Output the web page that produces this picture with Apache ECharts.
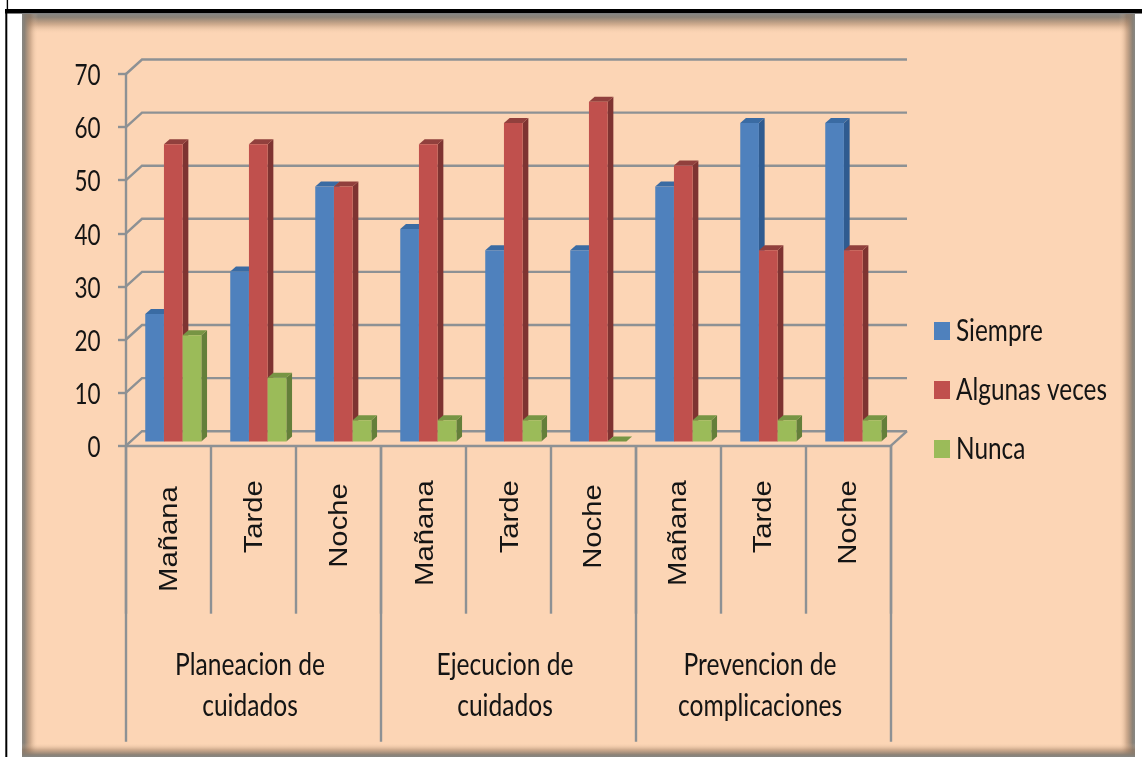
<!DOCTYPE html>
<html>
<head>
<meta charset="utf-8">
<title>Cuidados por turno</title>
<style>
  html, body { margin: 0; padding: 0; background: #ffffff; }
  #chart { width: 1142px; height: 757px; }
</style>
<script src="https://cdn.jsdelivr.net/npm/echarts@6/dist/echarts.min.js"></script>
</head>
<body>
<div id="chart"></div>
<script>
// Shift distribution, one value per shift within each care group
const shifts = ['Mañana', 'Tarde', 'Noche', 'Mañana', 'Tarde', 'Noche', 'Mañana', 'Tarde', 'Noche'];
const groups = ['Planeacion de\ncuidados', 'Ejecucion de\ncuidados', 'Prevencion de\ncomplicaciones'];
const seriesNames = ['Siempre', 'Algunas veces', 'Nunca'];
const siempre = [24, 32, 48, 40, 36, 36, 48, 60, 60];
const algunasVeces = [56, 56, 48, 56, 60, 64, 52, 36, 36];
const nunca = [20, 12, 4, 4, 4, 0, 4, 4, 4];
const yTicks = [0, 10, 20, 30, 40, 50, 60, 70];

const AXIS_GREY = '#8d9194';
const LINE_W = 2.4;
const TEXT = '#141414';
const TALL_FONT = 'Lato';
const TALL_SCALE = 1.27;

// Oblique projection used for the 3D look
const WALL = { dx: 16, dy: -14.5 };
const BAR_FRONT = { dx: 4.8, dy: -4.2 };
const BAR_DEPTH = { dx: 5.7, dy: -5 };
const BAR_SHARE = 0.22;

// Rotated shift labels sit a little lower under some columns
const shiftLabelDrop = [6, 0, 3, 0, 0, 4, 0, 0, 0];
const shiftLabelSide = [2, 1.5, 1.5, 2.5, 2.5, 1, 0.5, 0.5, 0.5];

function poly(points, fill) {
  return { type: 'polygon', shape: { points }, style: { fill, stroke: null } };
}

function tallText(text, x, y, align, size, lineHeight) {
  return {
    type: 'text',
    x, y,
    scaleY: TALL_SCALE,
    style: {
      text,
      fill: TEXT,
      font: size + 'px ' + TALL_FONT,
      align,
      verticalAlign: 'middle',
      lineHeight: lineHeight
    }
  };
}

function barSeries(name, values, slot, front, top, side) {
  return {
    type: 'custom',
    name,
    z: 3,
    clip: false,
    itemStyle: { color: front },
    encode: { x: 0, y: 1 },
    data: values.map((v, i) => [i, v]),
    renderItem(params, api) {
      const i = api.value(0);
      const base = api.coord([i, 0]);
      const head = api.coord([i, api.value(1)]);
      const w = api.size([1, 0])[0] * BAR_SHARE;
      const x0 = base[0] + BAR_FRONT.dx + (slot - 1.5) * w;
      const x1 = x0 + w;
      const yb = base[1] + BAR_FRONT.dy;
      const yt = head[1] + BAR_FRONT.dy;
      const ox = BAR_DEPTH.dx, oy = BAR_DEPTH.dy;
      return {
        type: 'group',
        children: [
          poly([[x1, yb], [x1 + ox, yb + oy], [x1 + ox, yt + oy], [x1, yt]], side),
          poly([[x0, yt], [x1, yt], [x1 + ox, yt + oy], [x0 + ox, yt + oy]], top),
          poly([[x0, yb], [x1, yb], [x1, yt], [x0, yt]], front)
        ]
      };
    }
  };
}

// Receding gridlines on the back wall, plus the right edge of the floor
const wallSeries = {
  type: 'custom',
  silent: true,
  z: 1,
  clip: false,
  encode: { x: 0, y: 1 },
  data: yTicks.map(v => [0, v]),
  renderItem(params, api) {
    const v = api.value(1);
    const half = api.size([1, 0])[0] / 2;
    const left = api.coord([0, v])[0] - half;
    const right = api.coord([shifts.length - 1, v])[0] + half;
    const y = api.coord([0, v])[1];
    const lineStyle = { stroke: AXIS_GREY, lineWidth: LINE_W, fill: null };
    const children = [{
      type: 'polyline',
      shape: { points: [[left, y], [left + WALL.dx, y + WALL.dy], [right + WALL.dx, y + WALL.dy]] },
      style: lineStyle
    }];
    if (v === 0) {
      children.push({
        type: 'line',
        shape: { x1: right, y1: y, x2: right + WALL.dx, y2: y + WALL.dy },
        style: lineStyle
      });
    }
    return { type: 'group', children };
  }
};

// Value labels, stretched vertically like the rest of the horizontal text
const yLabelSeries = {
  type: 'custom',
  silent: true,
  z: 4,
  clip: false,
  encode: { x: 0, y: 1 },
  data: yTicks.map(v => [0, v]),
  renderItem(params, api) {
    const half = api.size([1, 0])[0] / 2;
    const p = api.coord([0, api.value(1)]);
    return tallText(String(api.value(1)), p[0] - half - 25.5, p[1] + 2, 'right', 22.5);
  }
};

// Shift names, rotated and stretched along their length
const shiftLabelSeries = {
  type: 'custom',
  silent: true,
  z: 4,
  clip: false,
  encode: { x: 0, y: 1 },
  data: shifts.map((s, i) => [i, 0]),
  renderItem(params, api) {
    const i = api.value(0);
    const p = api.coord([i, 0]);
    return {
      type: 'text',
      x: p[0] + shiftLabelSide[i],
      y: p[1] + 34.5 + shiftLabelDrop[i],
      rotation: Math.PI / 2,
      scaleX: 1.17,
      style: {
        text: shifts[i],
        fill: TEXT,
        font: '25px "Liberation Sans"',
        align: 'right',
        verticalAlign: 'middle'
      }
    };
  }
};

// Care group names below the shifts
const groupLabelSeries = {
  type: 'custom',
  silent: true,
  z: 4,
  clip: false,
  encode: { x: 0, y: 1 },
  data: groups.map((g, i) => [i * 3 + 1, 0]),
  renderItem(params, api) {
    const p = api.coord([api.value(0), 0]);
    return tallText(groups[params.dataIndex], p[0] - 3.5, p[1] + 239.5, 'center', 24.6, 32);
  }
};

function edgeBand(x, y, width, height, gx, gy, gx2, gy2, stops) {
  return {
    type: 'rect', z: -9, silent: true,
    shape: { x, y, width, height },
    style: {
      fill: new echarts.graphic.LinearGradient(gx, gy, gx2, gy2, stops)
    }
  };
}

const shade = [
  { offset: 0, color: 'rgba(134,134,130,1)' },
  { offset: 0.16, color: 'rgba(134,126,116,0.95)' },
  { offset: 0.55, color: 'rgba(150,118,92,0.4)' },
  { offset: 1, color: 'rgba(252,213,181,0)' }
];

const chart = echarts.init(document.getElementById('chart'), null, { renderer: 'canvas' });

chart.setOption({
  animation: false,
  backgroundColor: '#ffffff',
  grid: { left: 126, top: 74, width: 765, height: 371.7, containLabel: false },
  legend: {
    orient: 'vertical',
    left: 934,
    top: 322,
    padding: 0,
    itemWidth: 16,
    itemHeight: 18,
    itemGap: 41,
    selectedMode: false,
    icon: 'rect',
    data: seriesNames,
    formatter: () => '',
    textStyle: { fontSize: 10 }
  },
  xAxis: [
    {
      type: 'category',
      data: shifts,
      position: 'bottom',
      axisLine: { lineStyle: { color: AXIS_GREY, width: LINE_W } },
      axisTick: { show: true, length: 168, lineStyle: { color: AXIS_GREY, width: LINE_W } },
      axisLabel: { show: false }
    },
    {
      type: 'category',
      data: groups,
      position: 'bottom',
      axisLine: { show: false },
      axisTick: { show: true, length: 296, lineStyle: { color: AXIS_GREY, width: LINE_W } },
      axisLabel: { show: false }
    }
  ],
  yAxis: {
    type: 'value',
    min: 0,
    max: 70,
    interval: 10,
    axisLine: { show: true, lineStyle: { color: AXIS_GREY, width: LINE_W } },
    axisTick: { show: true, length: 8, lineStyle: { color: AXIS_GREY, width: LINE_W } },
    splitLine: { show: false },
    axisLabel: { show: false }
  },
  series: [
    wallSeries,
    barSeries(seriesNames[0], siempre, 0, '#4f81bd', '#3a6ba3', '#2f5b90'),
    barSeries(seriesNames[1], algunasVeces, 1, '#c0504d', '#91403d', '#7e3331'),
    barSeries(seriesNames[2], nunca, 2, '#9bbb59', '#779544', '#647f3a'),
    yLabelSeries,
    shiftLabelSeries,
    groupLabelSeries
  ],
  graphic: [
    // Page frame
    { type: 'rect', z: -10, silent: true, shape: { x: 5, y: 9, width: 1137, height: 4.4 }, style: { fill: '#000000' } },
    { type: 'rect', z: -10, silent: true, shape: { x: 5.3, y: 11, width: 2, height: 746 }, style: { fill: '#000000' } },
    { type: 'rect', z: -10, silent: true, shape: { x: 6.7, y: 0, width: 1.4, height: 9 }, style: { fill: '#000000' } },
    // Chart panel with its soft inner edge
    { type: 'rect', z: -10, silent: true, shape: { x: 22, y: 14, width: 1113, height: 743 }, style: { fill: '#fcd5b5' } },
    edgeBand(22, 14, 1113, 20, 0, 0, 0, 1, shade),
    edgeBand(22, 14, 16, 743, 0, 0, 1, 0, shade),
    edgeBand(1119, 14, 16, 743, 1, 0, 0, 0, shade),
    edgeBand(22, 743, 1113, 14, 0, 1, 0, 0, shade),
    // Legend names
    ...seriesNames.map((name, i) => ({
      type: 'text', z: 5, silent: true,
      x: 956, y: 331 + i * 59,
      scaleY: TALL_SCALE,
      style: { text: name, fill: TEXT, font: '24.4px ' + TALL_FONT, align: 'left', verticalAlign: 'middle' }
    }))
  ]
});
</script>
</body>
</html>
